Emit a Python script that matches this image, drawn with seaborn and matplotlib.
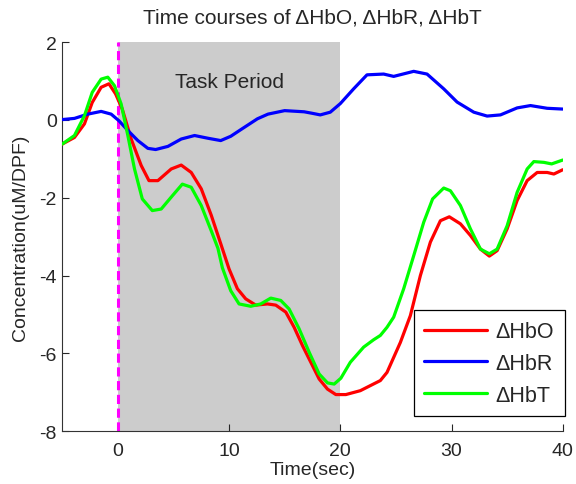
import pandas as pd
import numpy as np
import matplotlib
matplotlib.use("Agg")
import matplotlib.pyplot as plt
import seaborn as sns

# values
hbo_t = [-5.0, -3.9, -3.0, -2.3, -1.5, -0.8, -0.2, 0.4, 1.2, 2.1, 2.8, 3.6, 4.8, 5.7,
         6.6, 7.5, 8.4, 9.25, 10.0, 10.75, 11.5, 12.4, 13.45, 14.2, 15.1, 15.85, 16.6,
         17.35, 18.1, 18.85, 19.6, 20.5, 21.8, 23.6, 24.2, 25.4, 26.3, 27.2, 28.1, 29.0,
         29.8, 30.8, 31.7, 32.6, 33.4, 34.1, 35.0, 35.9, 36.8, 37.7, 38.6, 39.2, 40.0]
hbo = [-0.62, -0.45, -0.10, 0.45, 0.84, 0.93, 0.67, 0.28, -0.49, -1.17, -1.56, -1.56,
       -1.26, -1.16, -1.35, -1.77, -2.45, -3.18, -3.83, -4.34, -4.60, -4.76, -4.73, -4.76,
       -4.94, -5.33, -5.80, -6.23, -6.66, -6.92, -7.06, -7.06, -6.96, -6.70, -6.49, -5.72,
       -5.03, -4.00, -3.14, -2.59, -2.49, -2.67, -2.97, -3.32, -3.50, -3.36, -2.80, -2.07,
       -1.56, -1.35, -1.35, -1.39, -1.28]

hbr_t = [-5.0, -3.9, -2.7, -1.5, -0.6, 0.1, 0.9, 1.8, 2.7, 3.4, 4.5, 5.7, 6.9, 8.1,
         9.25, 10.15, 11.05, 12.55, 13.5, 15.0, 16.75, 17.5, 18.2, 19.1, 20.0, 21.2,
         22.4, 23.9, 24.8, 26.6, 27.8, 29.3, 30.5, 32.0, 33.2, 34.4, 35.9, 37.1, 38.6, 40.0]
hbr = [0.01, 0.04, 0.15, 0.22, 0.15, -0.02, -0.27, -0.53, -0.73, -0.76, -0.68, -0.49,
       -0.40, -0.47, -0.53, -0.42, -0.25, 0.03, 0.15, 0.24, 0.21, 0.17, 0.13, 0.20, 0.42,
       0.80, 1.16, 1.18, 1.12, 1.25, 1.18, 0.80, 0.46, 0.20, 0.10, 0.13, 0.31, 0.37, 0.30,
       0.28]

hbt_t = [-5.0, -3.9, -3.0, -2.3, -1.5, -0.9, -0.3, 0.3, 0.9, 1.5, 2.2, 3.1, 3.9, 4.9,
         5.8, 6.6, 7.5, 8.4, 9.0, 9.4, 10.15, 10.9, 11.95, 12.85, 13.75, 14.65, 15.4,
         16.3, 17.2, 18.1, 18.85, 19.45, 20.05, 20.9, 22.1, 23.0, 23.6, 24.2, 24.8, 25.7,
         26.6, 27.5, 28.3, 29.3, 29.9, 30.8, 31.7, 32.6, 33.4, 34.1, 35.0, 35.9, 36.8,
         37.4, 38.3, 39.0, 40.0]
hbt = [-0.62, -0.40, 0.11, 0.71, 1.05, 1.10, 0.88, 0.41, -0.40, -1.26, -2.03, -2.33,
       -2.29, -1.95, -1.65, -1.73, -2.20, -2.85, -3.30, -3.80, -4.39, -4.73, -4.79, -4.73,
       -4.58, -4.64, -4.86, -5.37, -5.97, -6.53, -6.76, -6.79, -6.64, -6.23, -5.84, -5.65,
       -5.54, -5.33, -5.07, -4.34, -3.49, -2.63, -2.03, -1.75, -1.82, -2.20, -2.80, -3.32,
       -3.44, -3.32, -2.72, -1.86, -1.26, -1.07, -1.09, -1.13, -1.03]

labels = ["\u0394HbO", "\u0394HbR", "\u0394HbT"]
colors = ["#ff0000", "#0000ff", "#00ff00"]

df = pd.concat([
    pd.DataFrame({"time": hbo_t, "conc": hbo, "signal": labels[0]}),
    pd.DataFrame({"time": hbr_t, "conc": hbr, "signal": labels[1]}),
    pd.DataFrame({"time": hbt_t, "conc": hbt, "signal": labels[2]}),
])

sns.set_style("ticks")
plt.rcParams["font.family"] = ["Liberation Sans", "DejaVu Sans"]
plt.rcParams["axes.unicode_minus"] = False

fig = plt.figure(figsize=(5.76, 4.85), dpi=100)
ax = fig.add_axes([0.108, 0.109, 0.869, 0.802])

# task period shading and onset marker
ax.axvspan(0, 20, color="#cccccc", lw=0, zorder=0)
ax.axvline(0, color="#ff00ff", lw=2.2, ls=(0, (3, 1.5)), zorder=1)
ax.text(10, 1.0, "Task Period", ha="center", va="center", fontsize=15)

sns.lineplot(data=df, x="time", y="conc", hue="signal", hue_order=labels,
             palette=colors, linewidth=2.3, sort=False, estimator=None, ax=ax,
             zorder=3)

ax.set_xlim(-5, 40)
ax.set_ylim(-8, 2)
ax.set_xticks([0, 10, 20, 30, 40])
ax.set_yticks([-8, -6, -4, -2, 0, 2])
ax.tick_params(direction="in", length=5, labelsize=14, width=0.8)
ax.tick_params(axis="x", pad=8)
ax.tick_params(axis="y", pad=4)
for side in ["top", "right"]:
    ax.spines[side].set_visible(False)
ax.spines["left"].set_color("#333333")
ax.spines["bottom"].set_color("#333333")

ax.set_title("Time courses of \u0394HbO, \u0394HbR, \u0394HbT", fontsize=15, pad=14)
ax.set_xlabel("Time(sec)", fontsize=14, labelpad=1)
ax.set_ylabel("Concentration(uM/DPF)", fontsize=14, labelpad=7)

leg = ax.legend(loc="lower right", bbox_to_anchor=(1.004, 0.038), fontsize=15.5,
                frameon=True, fancybox=False, edgecolor="black", framealpha=1,
                handlelength=2.9, handletextpad=0.4, labelspacing=0.5,
                borderpad=0.5, borderaxespad=0)
leg.get_frame().set_linewidth(0.9)
for line in leg.get_lines():
    line.set_linewidth(2.3)

fig.savefig("out.png", dpi=100)
